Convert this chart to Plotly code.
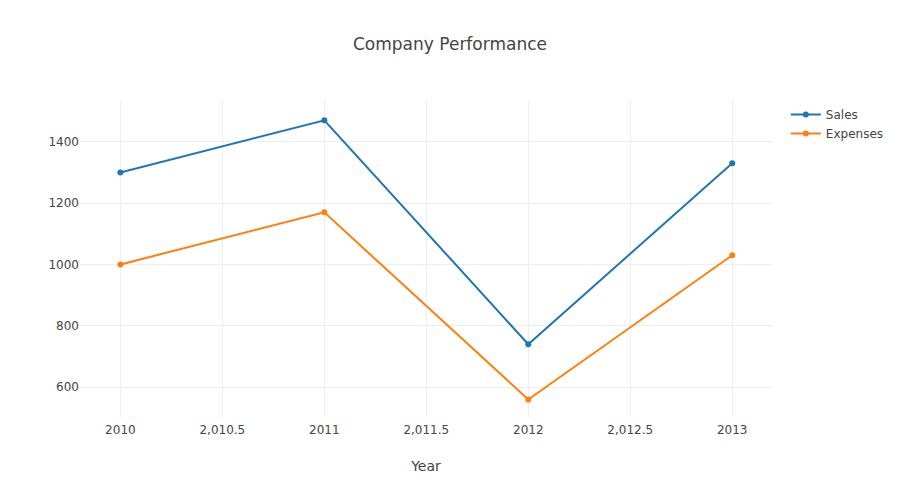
import plotly.graph_objects as go

years = [2010, 2011, 2012, 2013]
sales = [1300, 1470, 740, 1330]
expenses = [1000, 1170, 560, 1030]
x_tickvals = [2010, 2010.5, 2011, 2011.5, 2012, 2012.5, 2013]
x_ticktext = ["2010", "2,010.5", "2011", "2,011.5", "2012", "2,012.5", "2013"]

fig = go.Figure()
fig.add_trace(go.Scatter(x=years, y=sales, mode="lines+markers", name="Sales",
                         line=dict(color="#1f77b4", width=2), marker=dict(size=6)))
fig.add_trace(go.Scatter(x=years, y=expenses, mode="lines+markers", name="Expenses",
                         line=dict(color="#ff7f0e", width=2), marker=dict(size=6)))
fig.update_layout(
    width=903, height=491,
    paper_bgcolor="white", plot_bgcolor="white",
    title=dict(text="Company Performance", x=0.4895, xanchor="center",
               y=0.9267, yanchor="middle", yref="container",
               font=dict(size=17)),
    xaxis=dict(title=dict(text="Year", font=dict(size=14), standoff=25),
               tickvals=x_tickvals, ticktext=x_ticktext, range=[2009.802, 2013.195],
               ticklabelstandoff=4,
               showline=False, zeroline=False, gridcolor="#eee", ticks=""),
    yaxis=dict(zeroline=False, gridcolor="#eee", ticks="", showline=False,
               range=[503, 1536]),
    margin=dict(l=72, r=139, t=92, b=82),
    font=dict(family="Verdana, DejaVu Sans, sans-serif", color="#444", size=12),
    legend=dict(font=dict(size=12)),
)
fig.write_html("out.html")
